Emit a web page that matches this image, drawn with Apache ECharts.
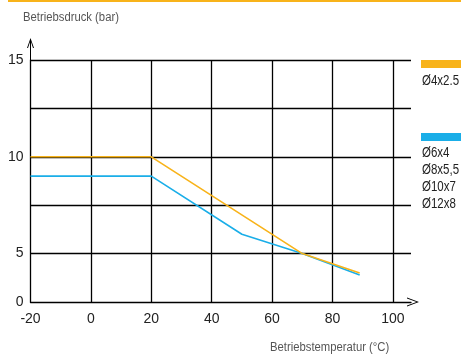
<!DOCTYPE html>
<html>
<head>
<meta charset="utf-8">
<script src="https://cdn.jsdelivr.net/npm/echarts@6/dist/echarts.min.js"></script>
<style>
  html, body { margin: 0; padding: 0; background: #fff; }
  #chart { width: 461px; height: 354px; }
</style>
</head>
<body>
<div id="chart"></div>
<script>
// Betriebstemperatur (°C) / Betriebsdruck (bar)
var tempsOrange = [-20, 20, 70, 89];
var pressOrange = [10, 10, 5, 3];
var tempsBlue = [-20, 20, 50, 70, 89];
var pressBlue = [9, 9, 6, 5, 2.8];
var xTickLabels = [-20, 0, 20, 40, 60, 80, 100];
var yTickLabels = [0, 5, 10, 15];
var legendOrange = ["Ø4x2.5"];
var legendBlue = ["Ø6x4", "Ø8x5,5", "Ø10x7", "Ø12x8"];

var ORANGE = "#f8b31a";
var BLUE = "#1aaee8";
var FONT = "'Liberation Sans', Arial, sans-serif";

// the y axis is compressed below 5 bar (0..5 takes one grid step of 2.5)
function toAxis(v) {
  return v >= 5 ? v : 2.5 + v / 2;
}
function fromAxis(a) {
  return a >= 5 ? a : (a - 2.5) * 2;
}
function pairs(xs, ys) {
  return xs.map(function (x, i) { return [x, toAxis(ys[i])]; });
}

var myChart = echarts.init(document.getElementById("chart"));

var graphics = [
  { type: "rect", left: 8, top: 0, shape: { width: 453, height: 2 }, style: { fill: ORANGE } },
  { type: "text", x: 23, y: 12, scaleX: 0.94, style: { text: "Betriebsdruck (bar)", font: "12px " + FONT, fill: "#555" } },
  { type: "text", x: 270, y: 342, scaleX: 0.94, style: { text: "Betriebstemperatur (°C)", font: "12px " + FONT, fill: "#555" } },
  { type: "rect", left: 421, top: 60, shape: { width: 40, height: 8 }, style: { fill: ORANGE } },
  { type: "rect", left: 421, top: 133, shape: { width: 40, height: 8 }, style: { fill: BLUE } }
];
legendOrange.forEach(function (t, i) {
  graphics.push({ type: "text", x: 422, y: 74 + i * 17, scaleX: 0.82, style: { text: t, font: "14px " + FONT, fill: "#222" } });
});
legendBlue.forEach(function (t, i) {
  graphics.push({ type: "text", x: 422, y: 146 + i * 17, scaleX: 0.82, style: { text: t, font: "14px " + FONT, fill: "#222" } });
});

var option = {
  animation: false,
  grid: { left: 30.5, right: 50, top: 60, bottom: 52 },
  xAxis: {
    type: "value",
    min: -20,
    max: 106,
    interval: 20,
    axisLine: {
      show: true,
      onZero: false,
      lineStyle: { color: "#000", width: 1.3 },
      symbol: ["none", "path://M0,12 L4.5,0 L9,12 L8,12 L4.5,2.5 L1,12 Z"],
      symbolSize: [9, 12],
      symbolOffset: [0, 2]
    },
    axisTick: { show: false },
    axisLabel: {
      margin: 10,
      color: "#222",
      fontSize: 14,
      fontFamily: FONT,
      formatter: function (v) {
        return xTickLabels.indexOf(v) >= 0 ? String(v) : "";
      }
    },
    splitLine: { show: true, showMinLine: false, showMaxLine: false, lineStyle: { color: "#000", width: 1.3 } }
  },
  yAxis: {
    type: "value",
    min: 2.5,
    max: 15,
    interval: 2.5,
    axisLine: {
      show: true,
      onZero: false,
      lineStyle: { color: "#000", width: 1.3 },
      symbol: ["none", "path://M0,10 L3.5,0 L7,10 L6,10 L4,4 L4,22 L3,22 L3,4 L1,10 Z"],
      symbolSize: [7, 22],
      symbolOffset: [0, 11]
    },
    axisTick: { show: false },
    axisLabel: {
      margin: 7,
      color: "#222",
      fontSize: 14,
      fontFamily: FONT,
      formatter: function (a) {
        var v = Math.round(fromAxis(a) * 10) / 10;
        return yTickLabels.indexOf(v) >= 0 ? String(v) : "";
      }
    },
    splitLine: { show: true, showMinLine: false, lineStyle: { color: "#000", width: 1.3 } }
  },
  series: [
    {
      name: legendOrange[0],
      type: "line",
      data: pairs(tempsOrange, pressOrange),
      symbol: "none",
      lineStyle: { color: ORANGE, width: 1.6 },
      z: 3
    },
    {
      name: legendBlue.join(", "),
      type: "line",
      data: pairs(tempsBlue, pressBlue),
      symbol: "none",
      lineStyle: { color: BLUE, width: 1.6 },
      z: 2
    }
  ],
  graphic: graphics
};

myChart.setOption(option);
</script>
</body>
</html>
